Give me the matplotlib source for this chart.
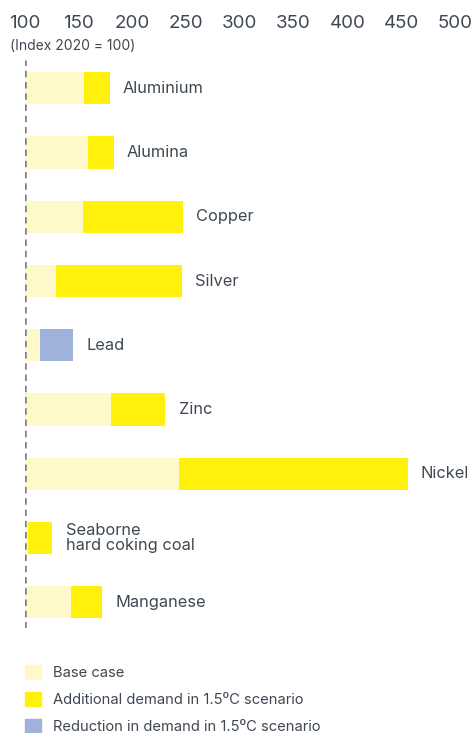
import numpy as np
import matplotlib.pyplot as plt
from matplotlib.patches import Patch

plt.rcParams['font.family'] = ['Inter', 'DejaVu Sans']

metals = ["Aluminium", "Alumina", "Copper", "Silver", "Lead", "Zinc",
          "Nickel", "Seaborne\nhard coking coal", "Manganese"]
base_case = [155, 159, 154, 129, 114, 180, 244, 103, 143]
scenario_15 = [179, 183, 247, 246, 145, 231, 456, 126, 172]
reduced = [False, False, False, False, True, False, False, False, False]

ticks = [100, 150, 200, 250, 300, 350, 400, 450, 500]

light = "#FFF8C8"
yellow = "#FFF10C"
blue = "#9FB2DC"
txt = "#3F4852"

W, H = 473, 733
fig = plt.figure(figsize=(W / 100, H / 100), dpi=100)
ax = fig.add_axes([24.5 / W, (H - 628) / H, 430.5 / W, 568 / H])

y = np.arange(len(metals))
base = np.array(base_case)
scen = np.array(scenario_15)

ax.barh(y, base - 100, left=100, height=0.5, color=light)
extra_col = [blue if r else yellow for r in reduced]
ax.barh(y, scen - base, left=base, height=0.5, color=extra_col)

for yi, end, name in zip(y, np.maximum(base, scen), metals):
    ax.annotate(name, (end, yi), xytext=(9.5, 0), textcoords="offset points",
                va="center", ha="left", fontsize=11.8, color=txt, linespacing=1.05)

ax.axvline(100, color="#7c8186", lw=1.8, ls=(0, (2.6, 1.9)))

ax.set_xlim(100, 500)
ax.set_ylim(8.4, -0.44)
ax.xaxis.tick_top()
ax.set_xticks(ticks)
ax.tick_params(axis="x", length=0, pad=20, labelsize=13.5, labelcolor=txt)
ax.set_yticks([])
for s in ax.spines.values():
    s.set_visible(False)

fig.text(10 / W, 1 - 46 / H, "(Index 2020 = 100)", fontsize=10, color=txt,
         va="center", ha="left")

handles = [Patch(color=light), Patch(color=yellow), Patch(color=blue)]
labels = ["Base case", "Additional demand in 1.5\u2070C scenario",
          "Reduction in demand in 1.5\u2070C scenario"]
fig.legend(handles, labels, loc="upper left", bbox_to_anchor=(25 / W, 1 - 665 / H),
           frameon=False, fontsize=10.6, handlelength=1.09, handleheight=1.09,
           handletextpad=0.78, labelspacing=0.8, borderpad=0, borderaxespad=0,
           labelcolor=txt)

fig.savefig("out.png", dpi=100)
